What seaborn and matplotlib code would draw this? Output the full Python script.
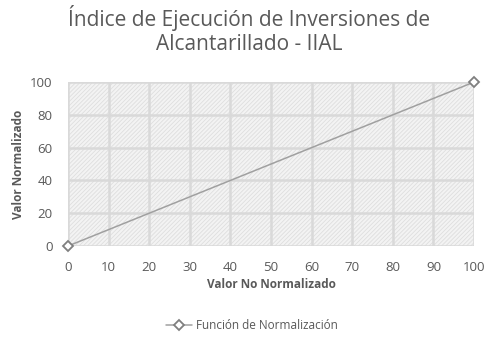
import matplotlib
matplotlib.use("Agg")
import matplotlib.pyplot as plt
import seaborn as sns
import pandas as pd
from matplotlib.patches import Rectangle

x_values = [0, 100]
y_values = [0, 100]
series_name = "Función de Normalización"
title = "Índice de Ejecución de Inversiones de\nAlcantarillado - IIAL"
x_label = "Valor No Normalizado"
y_label = "Valor Normalizado"
x_ticks = [0, 10, 20, 30, 40, 50, 60, 70, 80, 90, 100]
y_ticks = [0, 20, 40, 60, 80, 100]

df = pd.DataFrame({"x": x_values, "y": y_values, "serie": series_name})

sns.set_theme(style="white")
plt.rcParams['font.family'] = ['Open Sans', 'DejaVu Sans']
plt.rcParams['hatch.linewidth'] = 0.6

txt = "#595959"
fig = plt.figure(figsize=(4.94, 3.43), dpi=100)
ax = fig.add_axes([0.1377, 0.2828, 0.8219, 0.478])

# hatched background
bg = Rectangle((0, 0), 1, 1, transform=ax.transAxes, facecolor="#f3f3f3",
               edgecolor="#dedede", hatch="////////", linewidth=0, zorder=0)
ax.add_patch(bg)

sns.lineplot(data=df, x="x", y="y", hue="serie", palette=["#a0a0a0"],
             marker="D", markersize=5, markerfacecolor="white",
             markeredgecolor="#7f7f7f", markeredgewidth=1.3, linewidth=1.1,
             ax=ax, zorder=5, clip_on=False)

ax.set_xlim(0, 100)
ax.set_ylim(0, 100)
ax.set_xticks(x_ticks)
ax.set_yticks(y_ticks)
ax.grid(True, color="#d9d9d9", linewidth=1.8, zorder=1)
ax.set_axisbelow(True)
for s in ax.spines.values():
    s.set_visible(False)
ax.tick_params(axis="x", colors=txt, labelsize=9.5, length=0, pad=11)
ax.tick_params(axis="y", colors=txt, labelsize=9.5, length=0, pad=11)
ax.set_xlabel(x_label, fontsize=8.5, fontweight="bold", color=txt, labelpad=3)
ax.set_ylabel(y_label, fontsize=8.5, fontweight="bold", color=txt, labelpad=4)

fig.text(0.505, 0.84, title, ha="center", va="bottom", fontsize=15, color=txt,
         linespacing=1.15)

handles, labels = ax.get_legend_handles_labels()
ax.legend(handles, labels, loc="center", frameon=False, fontsize=8.5, labelcolor=txt,
          handlelength=2.2, handletextpad=0.4)
leg = ax.get_legend()
leg.set_bbox_to_anchor((0.51, 0.05), transform=fig.transFigure)

fig.savefig("out.png", dpi=100)
